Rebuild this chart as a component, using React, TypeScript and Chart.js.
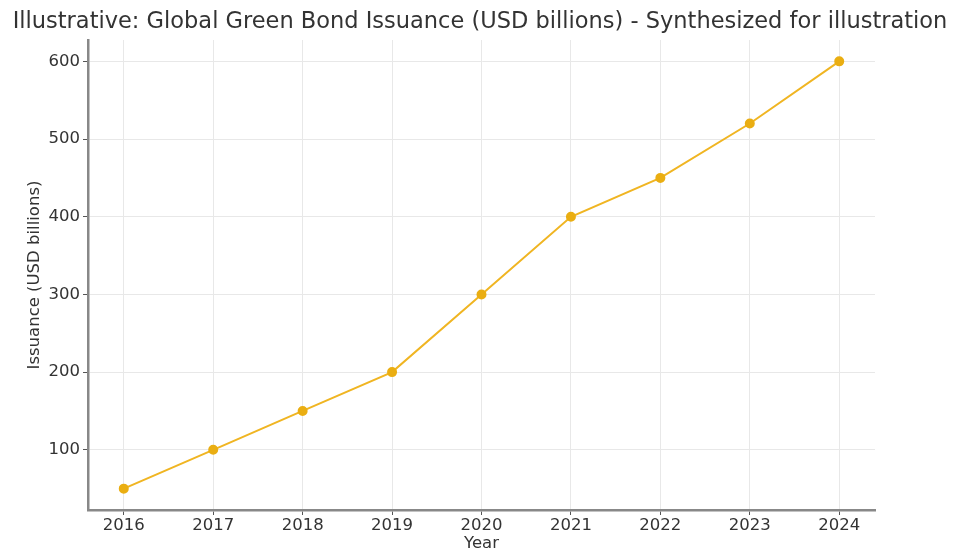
import React, { useEffect, useRef } from "react";
import { Chart, registerables } from "chart.js";

Chart.register(...registerables);

const years = [2016, 2017, 2018, 2019, 2020, 2021, 2022, 2023, 2024];
const issuance = [50, 100, 150, 200, 300, 400, 450, 520, 600];
const yTicks = [100, 200, 300, 400, 500, 600];
const titleText = "Illustrative: Global Green Bond Issuance (USD billions) - Synthesized for illustration";
const xTitle = "Year";
const yTitle = "Issuance (USD billions)";

const FONT = "'DejaVu Sans', sans-serif";

const textPlugin = {
  id: "texts",
  afterDraw(chart: any) {
    const ctx = chart.ctx;
    const a = chart.chartArea;
    ctx.save();
    ctx.fillStyle = "#333333";
    ctx.font = `22.5px ${FONT}`;
    ctx.textAlign = "center";
    ctx.textBaseline = "middle";
    ctx.fillText(titleText, 480, 22);
    ctx.font = `16.5px ${FONT}`;
    ctx.fillText(xTitle, (a.left + a.right) / 2, 544);
    ctx.translate(35, (a.top + a.bottom) / 2);
    ctx.rotate(-Math.PI / 2);
    ctx.fillText(yTitle, 0, 0);
    ctx.restore();
  },
};

export default function App() {
  const ref = useRef<HTMLCanvasElement>(null);
  useEffect(() => {
    document.body.style.margin = "0";
    const chart = new Chart(ref.current!, {
      type: "line",
      data: {
        datasets: [
          {
            data: years.map((y, i) => ({ x: y, y: issuance[i] })),
            borderColor: "#f0b522",
            backgroundColor: "#eaae12",
            pointBackgroundColor: "#eaae12",
            pointBorderColor: "#eaae12",
            borderWidth: 2,
            pointRadius: 4,
            tension: 0,
          },
        ],
      },
      options: {
        responsive: false,
        animation: false,
        layout: { padding: { left: 0, right: 78, top: 40, bottom: 0 } },
        plugins: { legend: { display: false }, title: { display: false }, tooltip: { enabled: false } },
        scales: {
          x: {
            type: "linear",
            min: 2015.6,
            max: 2024.4,
            afterFit: (s: any) => { s.height = 40; },
            afterBuildTicks: (s: any) => { s.ticks = years.map((v) => ({ value: v })); },
            ticks: {
              color: "#333333",
              font: { family: FONT, size: 16.5 },
              padding: 1,
              maxRotation: 0,
              autoSkip: false,
              callback: (v: any) => String(v),
            },
            grid: { color: "#e8e8e8", lineWidth: 1, tickLength: 5, tickColor: "#555555" },
            border: { display: true, color: "#888888", width: 2.5 },
          },
          y: {
            type: "linear",
            min: 22.5,
            max: 627.5,
            afterFit: (s: any) => { s.width = 88; },
            afterBuildTicks: (s: any) => { s.ticks = yTicks.map((v) => ({ value: v })); },
            ticks: {
              color: "#333333",
              font: { family: FONT, size: 16.5 },
              padding: 3,
              callback: (v: any) => String(v),
            },
            grid: { color: "#e8e8e8", lineWidth: 1, tickLength: 5, tickColor: "#555555" },
            border: { display: true, color: "#888888", width: 2.5 },
          },
        },
      },
      plugins: [textPlugin],
    });
    return () => chart.destroy();
  }, []);
  return (
    <div style={{ position: "fixed", left: 0, top: 0, width: 953, height: 550, background: "#fff" }}>
      <canvas ref={ref} width={953} height={550} style={{ display: "block" }} />
    </div>
  );
}
